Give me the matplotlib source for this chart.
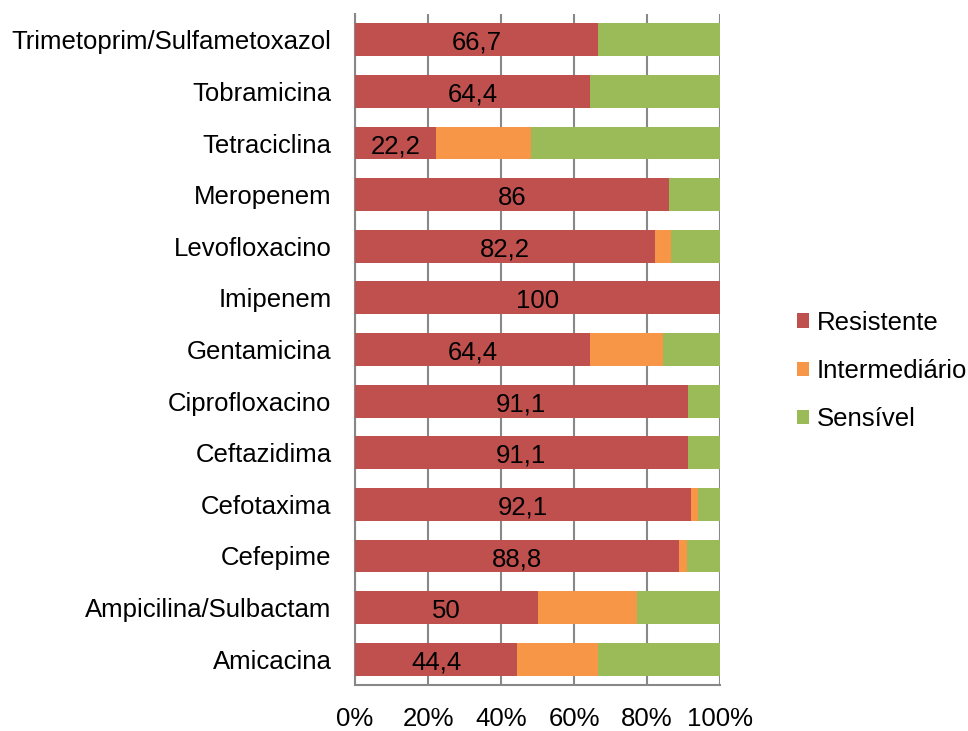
import matplotlib
matplotlib.use("Agg")
import matplotlib.pyplot as plt
from matplotlib.patches import Patch

plt.rcParams['font.family'] = ['Liberation Sans', 'DejaVu Sans']

antibioticos = [
    "Trimetoprim/Sulfametoxazol",
    "Tobramicina",
    "Tetraciclina",
    "Meropenem",
    "Levofloxacino",
    "Imipenem",
    "Gentamicina",
    "Ciprofloxacino",
    "Ceftazidima",
    "Cefotaxima",
    "Cefepime",
    "Ampicilina/Sulbactam",
    "Amicacina",
]
resistente = [66.7, 64.4, 22.2, 86, 82.2, 100, 64.4, 91.1, 91.1, 92.1, 88.8, 50, 44.4]
intermediario = [0, 0, 25.9, 0, 4.4, 0, 20.0, 0, 0, 1.9, 2.2, 27.3, 22.2]
sensivel = [33.3, 35.6, 51.9, 14, 13.4, 0, 15.6, 8.9, 8.9, 6.0, 9.0, 22.7, 33.4]
rotulos = ["66,7", "64,4", "22,2", "86", "82,2", "100", "64,4", "91,1", "91,1",
           "92,1", "88,8", "50", "44,4"]
xticks = [0, 20, 40, 60, 80, 100]
xtick_labels = ["0%", "20%", "40%", "60%", "80%", "100%"]

cores = {"Resistente": "#C0504D", "Intermediário": "#F79646", "Sensível": "#9BBB59"}
fs = 18.5

fig = plt.figure(figsize=(9.68, 7.31), dpi=100)
ax = fig.add_axes([355 / 968, 1 - 685 / 731, 365 / 968, 671 / 731])

y = list(range(len(antibioticos)))
h = 0.635
left2 = [r + i for r, i in zip(resistente, intermediario)]
ax.barh(y, resistente, height=h, color=cores["Resistente"], zorder=3)
ax.barh(y, intermediario, left=resistente, height=h, color=cores["Intermediário"], zorder=3)
ax.barh(y, sensivel, left=left2, height=h, color=cores["Sensível"], zorder=3)

for yi, r, txt in zip(y, resistente, rotulos):
    ax.text(r / 2, yi + 0.06, txt, ha="center", va="center", fontsize=fs,
            color="black", zorder=4)

ax.set_xlim(0, 100)
ax.set_ylim(len(antibioticos) - 0.5, -0.5)
ax.set_yticks(y)
ax.set_yticklabels(antibioticos, fontsize=fs)
ax.set_xticks(xticks)
ax.set_xticklabels(xtick_labels, fontsize=fs)
ax.tick_params(axis="both", length=0)
ax.tick_params(axis="y", pad=17)
ax.tick_params(axis="x", pad=16)

ax.grid(axis="x", color="#888888", linewidth=1.5, zorder=1)
for side in ["top", "right"]:
    ax.spines[side].set_visible(False)
for side in ["left", "bottom"]:
    ax.spines[side].set_color("#888888")
    ax.spines[side].set_linewidth(1.5)

handles = [Patch(facecolor=c, edgecolor="none", label=k) for k, c in cores.items()]
fig.legend(handles=handles, loc="center left", bbox_to_anchor=(797 / 968, 1 - 371 / 731),
           frameon=False, fontsize=fs, handlelength=0.48, handleheight=0.48,
           handletextpad=0.3, labelspacing=0.95, borderpad=0, borderaxespad=0)

fig.savefig("out.png", dpi=100)
